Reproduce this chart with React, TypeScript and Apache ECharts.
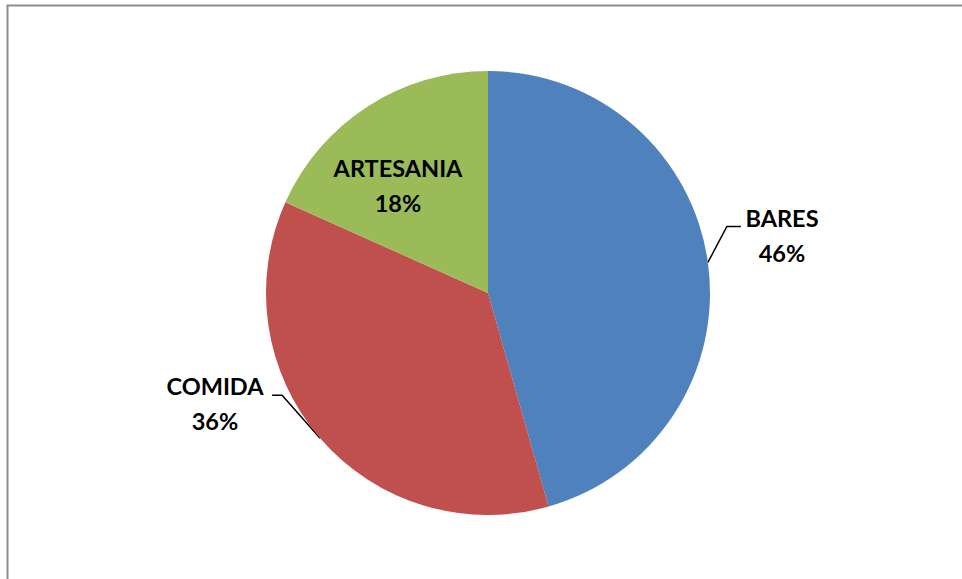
import React, { useEffect, useRef } from "react";
import * as echarts from "echarts";

const categories = ["BARES", "COMIDA", "ARTESANIA"];
const values = [45.6, 36.1, 18.3];
const colors = ["#4F81BD", "#C0504D", "#9BBB59"];

export default function App() {
  const ref = useRef<HTMLDivElement>(null);
  useEffect(() => {
    if (!ref.current) return;
    const chart = echarts.init(ref.current, null, { renderer: "svg" });
    const data = categories.map((name, i) => ({
      name,
      value: values[i],
      itemStyle: { color: colors[i] },
    }));
    chart.setOption({
      animation: false,
      backgroundColor: "#ffffff",
      graphic: [
        {
          type: "polyline",
          shape: { points: [[7.5, 579], [7.5, 5.5], [962, 5.5]] },
          style: { stroke: "#8c8c8c", lineWidth: 2, fill: "none" },
          silent: true,
        },
      ],
      series: [
        {
          type: "pie",
          center: [488, 293],
          radius: 222,
          startAngle: 90,
          clockwise: true,
          percentPrecision: 0,
          data,
          label: {
            show: true,
            position: "outside",
            formatter: "{b}\n{d}%",
            color: "#000",
            fontFamily: "Lato",
            fontWeight: "bold",
            fontSize: 23.5,
            lineHeight: 35,
            align: "center",
          },
          labelLine: {
            show: true,
            lineStyle: { color: "#000", width: 1.5 },
          },
          labelLayout: (params: any) => {
            const pts = params.labelLinePoints;
            const a = pts && pts[0] ? pts[0] : [0, 0];
            if (params.dataIndex === 0) {
              const p1 = [a[0] + 19, a[1] - 36];
              const p2 = [p1[0] + 14, p1[1]];
              return {
                x: 782,
                y: 235,
                align: "center",
                verticalAlign: "middle",
                labelLinePoints: [a, p1, p2],
              };
            }
            if (params.dataIndex === 1) {
              const p1 = [a[0] - 38, a[1] - 43];
              const p2 = [p1[0] - 10, p1[1]];
              return {
                x: 215,
                y: 403.5,
                align: "center",
                verticalAlign: "middle",
                labelLinePoints: [a, p1, p2],
              };
            }
            return {
              x: 398,
              y: 185.5,
              align: "center",
              verticalAlign: "middle",
              labelLinePoints: [a, a, a],
            };
          },
        },
      ],
    });
    return () => chart.dispose();
  }, []);
  return (
    <div
      ref={ref}
      style={{ position: "fixed", left: 0, top: 0, width: 962, height: 579 }}
    />
  );
}
